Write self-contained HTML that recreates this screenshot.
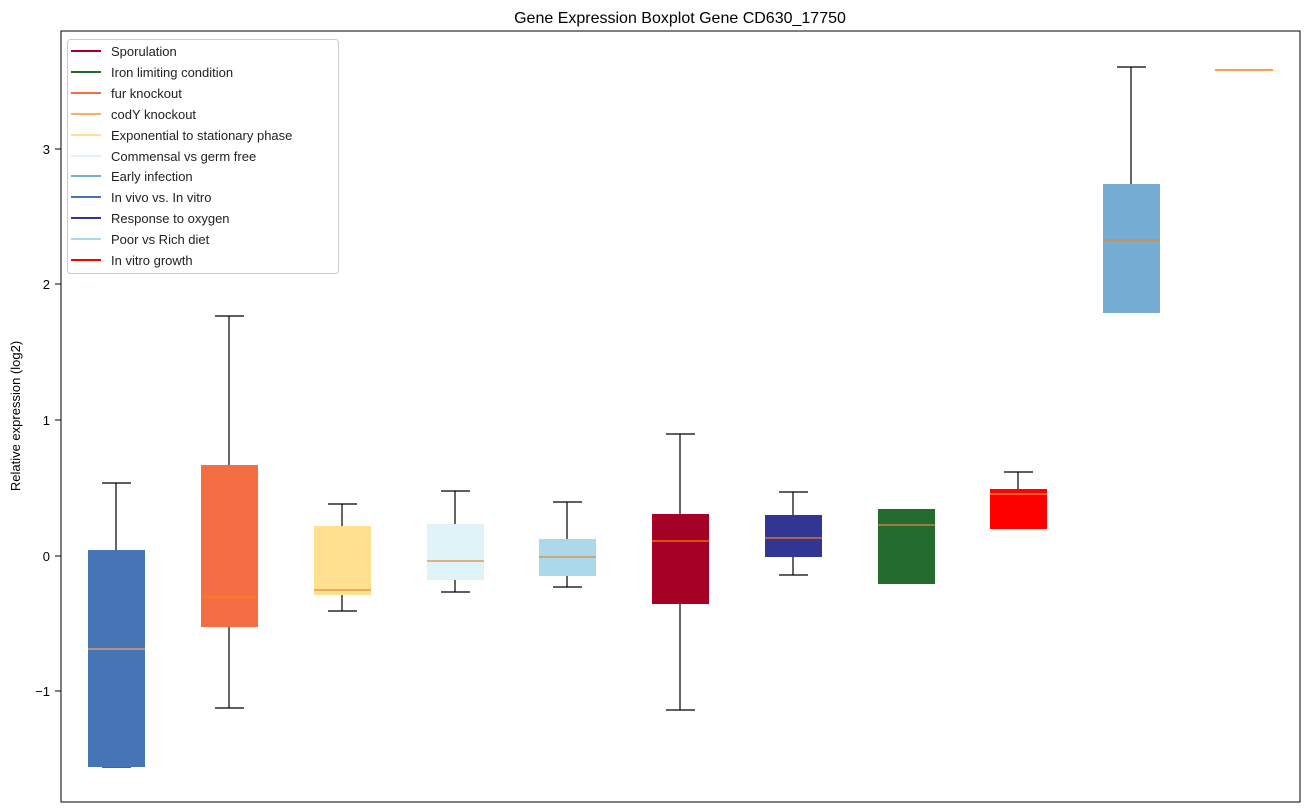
<!DOCTYPE html>
<html><head><style>body{margin:0;background:#fff}svg{display:block;font-family:"Liberation Sans","DejaVu Sans",sans-serif}</style></head><body>
<svg width="1309" height="812" xmlns="http://www.w3.org/2000/svg">
<rect width="1309" height="812" fill="#fff"/>
<text x="680" y="23" font-size="16" text-anchor="middle" fill="#000">Gene Expression Boxplot Gene CD630_17750</text>
<text transform="translate(20,416) rotate(-90)" font-size="13" text-anchor="middle">Relative expression (log2)</text>
<g font-size="13" text-anchor="end">
<line x1="55" y1="149" x2="61" y2="149" stroke="#000"/><text x="50" y="154">3</text>
<line x1="55" y1="284" x2="61" y2="284" stroke="#000"/><text x="50" y="289">2</text>
<line x1="55" y1="420" x2="61" y2="420" stroke="#000"/><text x="50" y="425">1</text>
<line x1="55" y1="556" x2="61" y2="556" stroke="#000"/><text x="50" y="561">0</text>
<line x1="55" y1="691" x2="61" y2="691" stroke="#000"/><text x="50" y="696">−1</text>
</g>
<g stroke="#000" stroke-width="1.2">
<!-- whiskers -->
<line x1="116" y1="483" x2="116" y2="550"/><line x1="102" y1="483" x2="131" y2="483"/><line x1="102" y1="767" x2="131" y2="767"/>
<line x1="229" y1="316" x2="229" y2="465"/><line x1="229" y1="627" x2="229" y2="708"/><line x1="215" y1="316" x2="244" y2="316"/><line x1="215" y1="708" x2="244" y2="708"/>
<line x1="342" y1="504" x2="342" y2="526"/><line x1="342" y1="595" x2="342" y2="611"/><line x1="328" y1="504" x2="357" y2="504"/><line x1="328" y1="611" x2="357" y2="611"/>
<line x1="455" y1="491" x2="455" y2="524"/><line x1="455" y1="580" x2="455" y2="592"/><line x1="441" y1="491" x2="470" y2="491"/><line x1="441" y1="592" x2="470" y2="592"/>
<line x1="567" y1="502" x2="567" y2="539"/><line x1="567" y1="576" x2="567" y2="587"/><line x1="553" y1="502" x2="582" y2="502"/><line x1="553" y1="587" x2="582" y2="587"/>
<line x1="680" y1="434" x2="680" y2="514"/><line x1="680" y1="604" x2="680" y2="710"/><line x1="666" y1="434" x2="695" y2="434"/><line x1="666" y1="710" x2="695" y2="710"/>
<line x1="793" y1="492" x2="793" y2="515"/><line x1="793" y1="557" x2="793" y2="575"/><line x1="779" y1="492" x2="808" y2="492"/><line x1="779" y1="575" x2="808" y2="575"/>
<line x1="1018" y1="472" x2="1018" y2="489"/><line x1="1004" y1="472" x2="1033" y2="472"/>
<line x1="1131" y1="67" x2="1131" y2="184"/><line x1="1117" y1="67" x2="1146" y2="67"/>
</g>
<g>
<rect x="88" y="550" width="57" height="217" fill="#4575b4"/><line x1="88" y1="649" x2="145" y2="649" stroke="#f4a261" stroke-width="1.2"/>
<rect x="201" y="465" width="57" height="162" fill="#f46d43"/><line x1="201" y1="597" x2="258" y2="597" stroke="#ff7f0e" stroke-width="1.2"/>
<rect x="314" y="526" width="57" height="69" fill="#fee090"/><line x1="314" y1="590" x2="371" y2="590" stroke="#e08a3c" stroke-width="1.2"/>
<rect x="427" y="524" width="57" height="56" fill="#e0f3f8"/><line x1="427" y1="561" x2="484" y2="561" stroke="#e08a3c" stroke-width="1.2"/>
<rect x="539" y="539" width="57" height="37" fill="#abd9e9"/><line x1="539" y1="557" x2="596" y2="557" stroke="#e08a3c" stroke-width="1.2"/>
<rect x="652" y="514" width="57" height="90" fill="#a50026"/><line x1="652" y1="541" x2="709" y2="541" stroke="#ff7f0e" stroke-width="1.2"/>
<rect x="765" y="515" width="57" height="42" fill="#313695"/><line x1="765" y1="538" x2="822" y2="538" stroke="#ff7f0e" stroke-width="1.2"/>
<rect x="878" y="509" width="57" height="75" fill="#236b2e"/><line x1="878" y1="525" x2="935" y2="525" stroke="#e08a3c" stroke-width="1.2"/>
<rect x="990" y="489" width="57" height="40" fill="#ff0000"/><line x1="990" y1="494" x2="1047" y2="494" stroke="#ff9a3c" stroke-width="1.2"/>
<rect x="1103" y="184" width="57" height="129" fill="#74add1"/><line x1="1103" y1="240" x2="1160" y2="240" stroke="#ff7f0e" stroke-width="1.2"/>
<line x1="1215" y1="70" x2="1273" y2="70" stroke="#ff7f0e" stroke-width="1.5"/>
</g>
<rect x="61" y="31" width="1239" height="771" fill="none" stroke="#000" stroke-width="1"/>
<rect x="67.5" y="39.5" width="271" height="234" rx="3" fill="#fff" fill-opacity="0.8" stroke="#ccc"/>
<g font-size="13" fill="#222" stroke-width="2">
<line x1="71" y1="51" x2="101" y2="51" stroke="#a50026"/><text x="111" y="56">Sporulation</text>
<line x1="71" y1="72" x2="101" y2="72" stroke="#236b2e"/><text x="111" y="77">Iron limiting condition</text>
<line x1="71" y1="93" x2="101" y2="93" stroke="#f46d43"/><text x="111" y="98">fur knockout</text>
<line x1="71" y1="114" x2="101" y2="114" stroke="#fdae61"/><text x="111" y="119">codY knockout</text>
<line x1="71" y1="135" x2="101" y2="135" stroke="#fee090"/><text x="111" y="140">Exponential to stationary phase</text>
<line x1="71" y1="156" x2="101" y2="156" stroke="#e0f3f8"/><text x="111" y="161">Commensal vs germ free</text>
<line x1="71" y1="176" x2="101" y2="176" stroke="#74add1"/><text x="111" y="181">Early infection</text>
<line x1="71" y1="197" x2="101" y2="197" stroke="#4575b4"/><text x="111" y="202">In vivo vs. In vitro</text>
<line x1="71" y1="218" x2="101" y2="218" stroke="#313695"/><text x="111" y="223">Response to oxygen</text>
<line x1="71" y1="239" x2="101" y2="239" stroke="#abd9e9"/><text x="111" y="244">Poor vs Rich diet</text>
<line x1="71" y1="260" x2="101" y2="260" stroke="#ff0000"/><text x="111" y="265">In vitro growth</text>
</g>
</svg>
</body></html>
